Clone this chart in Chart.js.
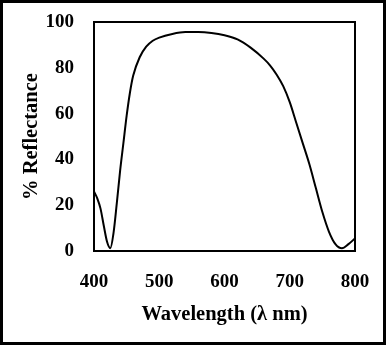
<!doctype html>
<html lang="en">
<head>
  <meta charset="utf-8">
  <title>Reflectance</title>
  <style>
    html,body{
      margin:0;
      padding:0;
      background:#fff;
      overflow:hidden;
    }
    .chart-p{
      width:386px;
      height:345px;
    }
  </style>
</head>
<body>
  <div class='chart-p'>
    <canvas id="chart0" width="386" height="345"></canvas>
  </div>

  <script src='https://cdn.jsdelivr.net/npm/chart.js@4.4.1/dist/chart.umd.min.js'></script>
  <script>
    // wavelength (nm) and % reflectance
    var wavelength = [400,405,410,415,420,425,430,435,440,445,450,455,460,470,480,490,500,520,540,560,580,600,620,640,660,670,680,690,700,710,720,730,740,750,760,770,780,790,800];
    var reflectance = [26,23,18.5,11,4,1.2,8,21,35,47,59,69,76.5,84.6,89.2,91.8,93.2,94.8,95.6,95.6,95.2,94.2,92.4,88.8,84,81,77,72,65,56,47,38,27.5,17,8.5,3,1.2,3,5.5];
    var xTicks = [400,500,600,700,800];
    var yTicks = [0,20,40,60,80,100];

    var pts = [];
    for (var i = 0; i < wavelength.length; i++){
      pts.push({x: wavelength[i], y: reflectance[i]});
    }

    var fontFam = "'Liberation Serif', 'Times New Roman', serif";

    // box around the plot area and the outer frame
    var framePlugin = {
      id: 'frames',
      afterDraw: function(chart){
        var c = chart.ctx, a = chart.chartArea;
        c.save();
        c.strokeStyle = '#000';
        c.lineWidth = 2;
        c.strokeRect(a.left, a.top, a.right - a.left, a.bottom - a.top);
        c.lineWidth = 3;
        c.strokeRect(1.5, 1.5, chart.width - 3, chart.height - 3);
        c.restore();
      }
    };

    var ctx = document.getElementById("chart0").getContext('2d');
    var myChart = new Chart(ctx, {
      type: 'line',
      data: {
        datasets: [{
          data: pts,
          borderColor: '#000',
          borderWidth: 2,
          pointRadius: 0,
          cubicInterpolationMode: 'monotone',
          fill: false
        }]
      },
      plugins: [framePlugin],
      options: {
        responsive: false,
        animation: false,
        layout: {
          padding: {left: 0, right: 31, top: 22, bottom: 0}
        },
        plugins: {
          legend: {display: false},
          tooltip: {enabled: false}
        },
        scales: {
          x: {
            type: 'linear',
            min: 400,
            max: 800,
            afterFit: function(s){ s.height = 94; s.paddingLeft = 0; s.paddingRight = 0; },
            afterBuildTicks: function(s){ s.ticks = xTicks.map(function(v){ return {value: v}; }); },
            grid: {display: false, drawTicks: false},
            border: {display: false},
            ticks: {
              padding: 20,
              color: '#000',
              font: {family: fontFam, size: 19, weight: 'bold'}
            },
            title: {
              display: true,
              text: 'Wavelength (\u03bb nm)',
              color: '#000',
              padding: {top: 0, bottom: 18},
              font: {family: fontFam, size: 20.5, weight: 'bold'}
            }
          },
          y: {
            min: 0,
            max: 100,
            afterFit: function(s){ s.width = 94; s.paddingTop = 0; s.paddingBottom = 0; },
            afterBuildTicks: function(s){ s.ticks = yTicks.map(function(v){ return {value: v}; }); },
            grid: {display: false, drawTicks: false},
            border: {display: false},
            ticks: {
              padding: 20,
              color: '#000',
              font: {family: fontFam, size: 19, weight: 'bold'}
            },
            title: {
              display: true,
              text: '% Reflectance',
              color: '#000',
              padding: {top: 19, bottom: 0},
              font: {family: fontFam, size: 20.5, weight: 'bold'}
            }
          }
        }
      }
    });
  </script>
</body>
</html>
